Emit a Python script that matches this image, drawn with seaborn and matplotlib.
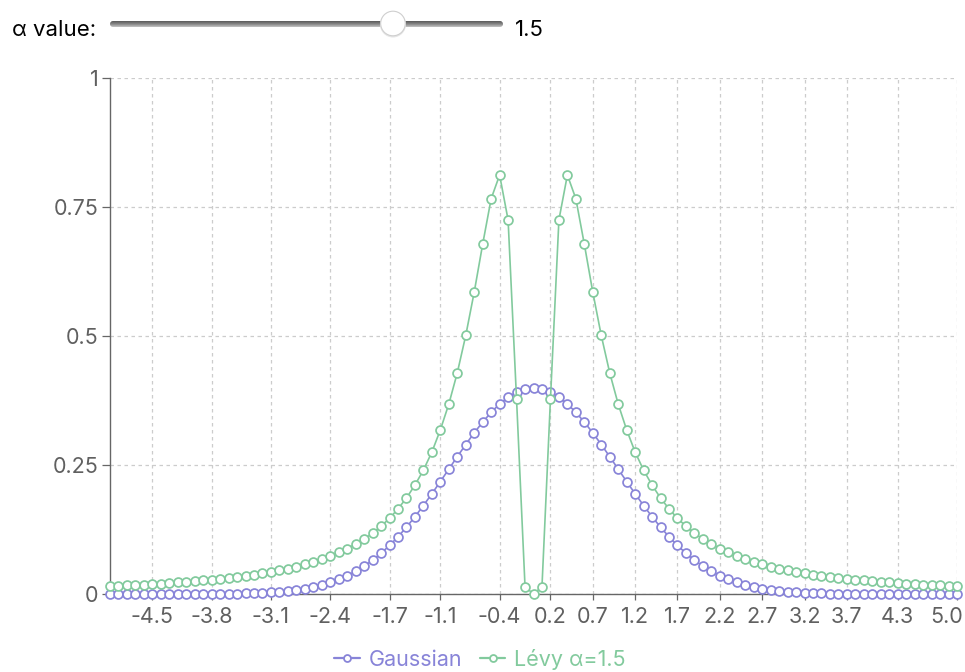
import matplotlib
matplotlib.use("Agg")
import matplotlib.pyplot as plt
import matplotlib.transforms as mtransforms
import seaborn as sns
import numpy as np
from matplotlib.patches import FancyBboxPatch, Circle
from matplotlib.lines import Line2D

# ---------------- data ----------------
x_values = [
    -5.0, -4.9, -4.8, -4.7, -4.6, -4.5, -4.4, -4.3, -4.2, -4.1,
    -4.0, -3.9, -3.8, -3.7, -3.6, -3.5, -3.4, -3.3, -3.2, -3.1,
    -3.0, -2.9, -2.8, -2.7, -2.6, -2.5, -2.4, -2.3, -2.2, -2.1,
    -2.0, -1.9, -1.8, -1.7, -1.6, -1.5, -1.4, -1.3, -1.2, -1.1,
    -1.0, -0.9, -0.8, -0.7, -0.6, -0.5, -0.4, -0.3, -0.2, -0.1,
    0.0,
    0.1, 0.2, 0.3, 0.4, 0.5, 0.6, 0.7, 0.8, 0.9, 1.0,
    1.1, 1.2, 1.3, 1.4, 1.5, 1.6, 1.7, 1.8, 1.9, 2.0,
    2.1, 2.2, 2.3, 2.4, 2.5, 2.6, 2.7, 2.8, 2.9, 3.0,
    3.1, 3.2, 3.3, 3.4, 3.5, 3.6, 3.7, 3.8, 3.9, 4.0,
    4.1, 4.2, 4.3, 4.4, 4.5, 4.6, 4.7, 4.8, 4.9, 5.0,
]

gaussian = [
    0.0000, 0.0000, 0.0000, 0.0000, 0.0000, 0.0000, 0.0000, 0.0000, 0.0001, 0.0001,
    0.0001, 0.0002, 0.0003, 0.0004, 0.0006, 0.0009, 0.0012, 0.0017, 0.0024, 0.0033,
    0.0044, 0.0060, 0.0079, 0.0104, 0.0136, 0.0175, 0.0224, 0.0283, 0.0355, 0.0440,
    0.0540, 0.0656, 0.0790, 0.0940, 0.1109, 0.1295, 0.1497, 0.1714, 0.1942, 0.2179,
    0.2420, 0.2661, 0.2897, 0.3123, 0.3332, 0.3521, 0.3683, 0.3814, 0.3910, 0.3970,
    0.3989,
    0.3970, 0.3910, 0.3814, 0.3683, 0.3521, 0.3332, 0.3123, 0.2897, 0.2661, 0.2420,
    0.2179, 0.1942, 0.1714, 0.1497, 0.1295, 0.1109, 0.0940, 0.0790, 0.0656, 0.0540,
    0.0440, 0.0355, 0.0283, 0.0224, 0.0175, 0.0136, 0.0104, 0.0079, 0.0060, 0.0044,
    0.0033, 0.0024, 0.0017, 0.0012, 0.0009, 0.0006, 0.0004, 0.0003, 0.0002, 0.0001,
    0.0001, 0.0001, 0.0000, 0.0000, 0.0000, 0.0000, 0.0000, 0.0000, 0.0000, 0.0000,
]

levy = [
    0.0155, 0.0161, 0.0168, 0.0176, 0.0184, 0.0193, 0.0203, 0.0213, 0.0224, 0.0236,
    0.0248, 0.0262, 0.0277, 0.0293, 0.0311, 0.0330, 0.0351, 0.0374, 0.0400, 0.0428,
    0.0459, 0.0494, 0.0532, 0.0575, 0.0623, 0.0677, 0.0740, 0.0805, 0.0880, 0.0968,
    0.1065, 0.1178, 0.1315, 0.1465, 0.1650, 0.1860, 0.2110, 0.2400, 0.2750, 0.3180,
    0.3680, 0.4285, 0.5010, 0.5850, 0.6780, 0.7660, 0.8120, 0.7250, 0.3770, 0.0140,
    0.0000,
    0.0140, 0.3770, 0.7250, 0.8120, 0.7660, 0.6780, 0.5850, 0.5010, 0.4285, 0.3680,
    0.3180, 0.2750, 0.2400, 0.2110, 0.1860, 0.1650, 0.1465, 0.1315, 0.1178, 0.1065,
    0.0968, 0.0880, 0.0805, 0.0740, 0.0677, 0.0623, 0.0575, 0.0532, 0.0494, 0.0459,
    0.0428, 0.0400, 0.0374, 0.0351, 0.0330, 0.0311, 0.0293, 0.0277, 0.0262, 0.0248,
    0.0236, 0.0224, 0.0213, 0.0203, 0.0193, 0.0184, 0.0176, 0.0168, 0.0161, 0.0155,
]

x_tick_labels = ["-4.5", "-3.8", "-3.1", "-2.4", "-1.7", "-1.1", "-0.4", "0.2", "0.7",
                 "1.2", "1.7", "2.2", "2.7", "3.2", "3.7", "4.3", "5.0"]
y_ticks = [0, 0.25, 0.5, 0.75, 1]
y_tick_labels = ["0", "0.25", "0.5", "0.75", "1"]
series_names = ["Gaussian", "Lévy α=1.5"]
series_colors = ["#8884d8", "#82ca9d"]
slider_label = "α value:"
slider_value_text = "1.5"
slider_fraction = 0.72

# ---------------- style ----------------
sns.set_theme(style="white")
plt.rcParams["font.family"] = ["Inter", "DejaVu Sans"]

W, H = 965, 672
fig = plt.figure(figsize=(W / 100, H / 100), dpi=100)
fig.patch.set_facecolor("white")

ax = fig.add_axes([110 / W, 1 - 594 / H, (957 - 110) / W, (594 - 78) / H])
ax.set_facecolor("white")

series = [gaussian, levy]
for vals, name, col in zip(series, series_names, series_colors):
    sns.lineplot(x=x_values, y=vals, ax=ax, color=col, linewidth=1.2,
                 marker="o", markersize=6.4, markerfacecolor="white",
                 markeredgecolor=col, markeredgewidth=1.25,
                 errorbar=None, sort=False, legend=False, clip_on=False, zorder=3)

ax.set_xlim(-5, 5)
ax.set_ylim(0, 1)
ax.set_xticks([float(t) for t in x_tick_labels])
ax.set_xticklabels(x_tick_labels)
ax.set_yticks(y_ticks)
ax.set_yticklabels(y_tick_labels)
ax.set_xlabel("")
ax.set_ylabel("")

axis_col = "#666666"
for s in ["top", "right"]:
    ax.spines[s].set_visible(False)
for s in ["left", "bottom"]:
    ax.spines[s].set_visible(True)
    ax.spines[s].set_color(axis_col)
    ax.spines[s].set_linewidth(1.0)

ax.tick_params(axis="x", direction="out", length=4.5, width=0.9, color=axis_col,
               labelcolor="#606060", labelsize=15.5, pad=5, bottom=True)
ax.tick_params(axis="y", direction="out", length=5.5, width=0.9, color=axis_col,
               labelcolor="#606060", labelsize=15.5, pad=3, left=True)

# shift the last x label left so it stays inside the figure
last = ax.get_xticklabels()[-1]
last.set_transform(last.get_transform() +
                   mtransforms.ScaledTranslation(-10 / 100, 0, fig.dpi_scale_trans))

ax.grid(True, which="major", color="#cccccc", linestyle=(0, (2.8, 2.8)), linewidth=0.9)
ax.set_axisbelow(True)

# ---------------- legend ----------------
handles = [Line2D([0], [0], color=c, lw=1.6, marker="o", markersize=5,
                  markerfacecolor="white", markeredgecolor=c, markeredgewidth=1.3)
           for c in series_colors]
fig.legend(handles, series_names, loc="center", bbox_to_anchor=(480 / W, 1 - 659 / H),
           ncol=2, frameon=False, fontsize=15.5, labelcolor=series_colors,
           handlelength=1.2, handletextpad=0.4, columnspacing=0.8)

# ---------------- slider control on top ----------------
ov = fig.add_axes([0, 0, 1, 1], zorder=-1)
ov.set_xlim(0, W)
ov.set_ylim(H, 0)
ov.axis("off")

fig.text(12 / W, 1 - 30 / H, slider_label, fontsize=16, color="black",
         ha="left", va="center")
bar_x0, bar_x1, bar_y, bar_h = 110, 503, 24, 6
bar = FancyBboxPatch((bar_x0, bar_y - bar_h / 2), bar_x1 - bar_x0, bar_h,
                     boxstyle="round,pad=0,rounding_size=3", facecolor="none",
                     edgecolor="none")
ov.add_patch(bar)
grad = np.linspace(0, 1, 50).reshape(-1, 1)
im = ov.imshow(grad, cmap=matplotlib.colors.LinearSegmentedColormap.from_list(
    "g", ["#5a5a5a", "#868686", "#c4c4c4"]), aspect="auto",
    extent=[bar_x0, bar_x1, bar_y + bar_h / 2, bar_y - bar_h / 2], zorder=1)
im.set_clip_path(bar)
knob_x = bar_x0 + slider_fraction * (bar_x1 - bar_x0)
ov.add_patch(Circle((knob_x, 24.5), 13, facecolor="#e6e6e6", edgecolor="none", zorder=2))
ov.add_patch(Circle((knob_x, 23.5), 12.3, facecolor="white", edgecolor="#cfcfcf",
                    linewidth=0.8, zorder=3))
fig.text(515 / W, 1 - 30 / H, slider_value_text, fontsize=16, color="black",
         ha="left", va="center")

fig.savefig("out.png", dpi=100, facecolor="white")
